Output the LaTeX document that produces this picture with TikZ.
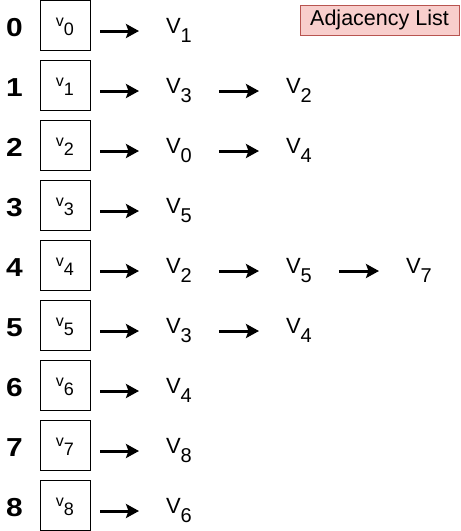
\documentclass[tikz,border=0pt]{standalone}
\usepackage{fontspec}
\setmainfont{Liberation Sans}
\usetikzlibrary{arrows.meta,positioning}
\definecolor{titlefill}{HTML}{F8CECC}
\definecolor{titleborder}{HTML}{B85450}
\tikzset{
  vbox/.style={draw,line width=1pt,minimum size=50pt,inner sep=0pt,outer xsep=10pt,
    text height=20pt,text depth=0pt},
  vert/.style={inner sep=0pt,anchor=base west,outer xsep=27pt,
    text height=14pt,text depth=10pt,font=\fontsize{22}{22}\selectfont},
  idx/.style={anchor=base,font=\fontsize{26}{26}\selectfont\bfseries},
  nb/.style={line width=3pt,-{Stealth[length=13pt,width=14pt,inset=2.5pt]}},
  title/.style={draw=titleborder,fill=titlefill,line width=1pt,
    minimum width=159pt,minimum height=30pt,inner sep=0pt,
    font=\fontsize{21.5}{21.5}\selectfont}
}
\newcommand{\idxtext}[1]{\scalebox{1.15}[1]{#1}}
\newcommand{\boxtext}[1]{\raisebox{9pt}{\fontsize{16}{16}\selectfont v}{\fontsize{18}{18}\selectfont #1}}
\newcommand{\vtext}[1]{V\raisebox{-9pt}{\fontsize{20}{20}\selectfont #1}}
\begin{document}
\begin{tikzpicture}[x=1pt,y=-1pt]
  \useasboundingbox (0,0) rectangle (461,531);
  \node[title] (lbl) at (379.5,20) {Adjacency List};
  % one row per vertex: index, box, then its neighbours
  \foreach \r/\nbrs in {0/{1},1/{3,2},2/{0,4},3/{5},4/{2,5,7},5/{3,4},6/{4},7/{8},8/{6}}{
    \node[idx] (i\r) at (14.5,25+60*\r+11.5) {\idxtext{\r}};
    \node[vbox] (b\r) at (65,25+60*\r) {\boxtext{\r}};
    \xdef\prev{b\r}
    \foreach \n [count=\k] in \nbrs {
      \node[vert] (n\r\k) at (139+120*\k-120,25+60*\r+8) {\vtext{\n}};
      \draw[nb] (\prev.east |- n\r\k.west) -- (n\r\k.west);
      \xdef\prev{n\r\k}
    }
  }
\end{tikzpicture}
\end{document}
